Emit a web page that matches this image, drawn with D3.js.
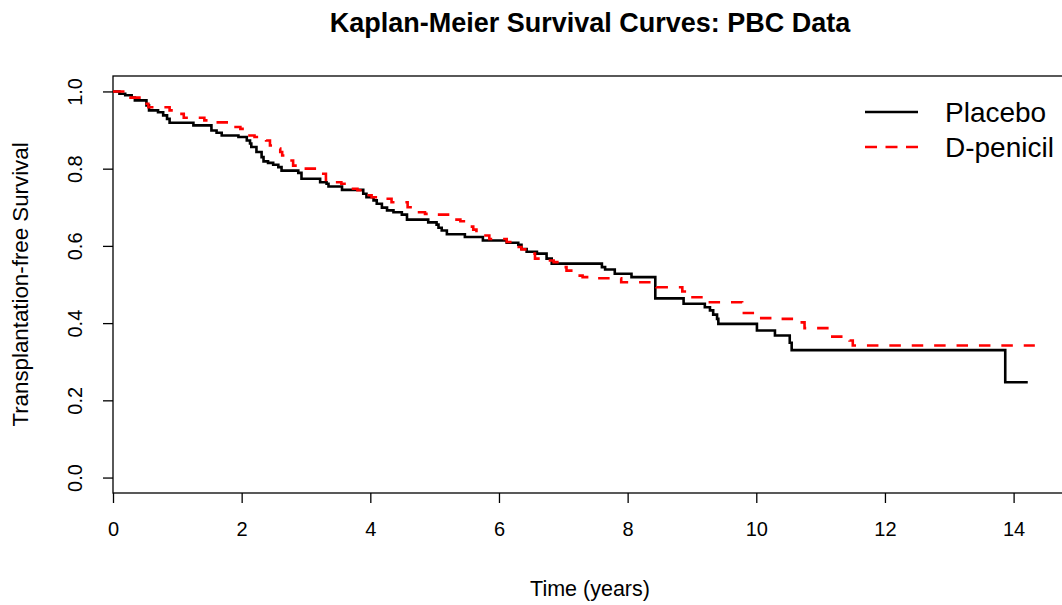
<!DOCTYPE html>
<html>
<head>
<meta charset="utf-8">
<script src="https://cdn.jsdelivr.net/npm/d3@7"></script>
<style>
  html, body { margin: 0; padding: 0; background: #fff; }
  svg { display: block; }
  text { font-family: "Liberation Sans", Arial, sans-serif; fill: #000; }
</style>
</head>
<body>
<svg id="chart" width="1062" height="605"></svg>
<script>
// ---- data ----
const title = "Kaplan-Meier Survival Curves: PBC Data";
const xLabel = "Time (years)";
const yLabel = "Transplantation-free Survival";
const seriesNames = ["Placebo", "D-penicil"];
const xTicks = [0, 2, 4, 6, 8, 10, 12, 14];
const yTicks = [0.0, 0.2, 0.4, 0.6, 0.8, 1.0];

// Placebo: step times (years) and survival after each step
const placeboTime = [0, 0.10, 0.19, 0.29, 0.34, 0.52, 0.56, 0.70, 0.78, 0.84, 0.88, 1.25, 1.53, 1.61, 1.69, 1.95,
  2.08, 2.13, 2.15, 2.23, 2.31, 2.34, 2.41, 2.49, 2.57, 2.62, 2.88, 2.93, 3.22, 3.32, 3.35, 3.56, 3.89, 3.94,
  4.05, 4.10, 4.18, 4.26, 4.36, 4.49, 4.57, 4.90, 5.03, 5.06, 5.11, 5.19, 5.47, 5.75, 6.12, 6.30, 6.35, 6.43,
  6.59, 6.74, 6.82, 7.60, 7.65, 7.80, 8.06, 8.43, 8.87, 9.20, 9.28, 9.33, 9.39, 9.41, 10.01, 10.29, 10.52,
  10.55, 13.87, 14.22];
const placeboSurv = [1.0, 0.994, 0.990, 0.984, 0.977, 0.964, 0.951, 0.946, 0.938, 0.929, 0.919, 0.912, 0.899, 0.893, 0.886, 0.882,
  0.873, 0.865, 0.856, 0.843, 0.830, 0.819, 0.815, 0.810, 0.804, 0.795, 0.789, 0.774, 0.765, 0.761, 0.754, 0.745, 0.735, 0.726,
  0.718, 0.709, 0.699, 0.692, 0.687, 0.681, 0.668, 0.661, 0.655, 0.647, 0.640, 0.630, 0.623, 0.614, 0.608, 0.603, 0.592, 0.585,
  0.580, 0.567, 0.554, 0.545, 0.539, 0.528, 0.519, 0.464, 0.450, 0.441, 0.433, 0.422, 0.411, 0.398, 0.381, 0.368, 0.349,
  0.330, 0.247, 0.247];

// D-penicillamine
const dpenTime = [0, 0.25, 0.45, 0.55, 0.88, 1.00, 1.10, 1.42, 1.55, 1.85, 1.98, 2.05, 2.20, 2.38, 2.44, 2.56, 2.60, 2.63,
  2.73, 2.80, 2.92, 3.24, 3.31, 3.42, 3.55, 3.68, 3.80, 3.93, 4.02, 4.22, 4.33, 4.58, 4.70, 4.85, 5.00, 5.28, 5.40,
  5.52, 5.60, 5.65, 5.75, 5.85, 6.12, 6.25, 6.35, 6.50, 6.56, 6.72, 6.85, 6.98, 7.05, 7.20, 7.30, 7.50, 7.90, 8.45,
  8.85, 8.95, 9.22, 9.78, 10.00, 10.35, 10.65, 10.75, 11.15, 11.45, 11.50, 14.33];
const dpenSurv = [1.0, 0.984, 0.968, 0.959, 0.951, 0.942, 0.932, 0.925, 0.920, 0.908, 0.903, 0.886, 0.882, 0.873, 0.860, 0.852, 0.843, 0.834,
  0.821, 0.808, 0.800, 0.787, 0.771, 0.765, 0.761, 0.748, 0.744, 0.731, 0.726, 0.722, 0.713, 0.700, 0.687, 0.683, 0.681, 0.668, 0.664,
  0.650, 0.642, 0.635, 0.627, 0.618, 0.610, 0.597, 0.591, 0.580, 0.567, 0.562, 0.558, 0.545, 0.536, 0.523, 0.519, 0.516, 0.506, 0.493,
  0.482, 0.467, 0.454, 0.426, 0.413, 0.411, 0.402, 0.387, 0.365, 0.355, 0.342, 0.342];

// ---- layout ----
const svg = d3.select("#chart");
const box = { left: 113, right: 1067, top: 76, bottom: 493 };

const x = d3.scaleLinear().domain([0, 14.83]).range([box.left, box.right]);
const y = d3.scaleLinear().domain([-0.04, 1.04]).range([box.bottom, box.top]);

// plot box
svg.append("rect")
  .attr("x", box.left).attr("y", box.top)
  .attr("width", box.right - box.left).attr("height", box.bottom - box.top)
  .attr("fill", "none").attr("stroke", "#000").attr("stroke-width", 1.3);

// x axis
const xAxis = d3.axisBottom(x).tickValues(xTicks).tickFormat(d3.format("d")).tickSize(10).tickPadding(19);
const gx = svg.append("g").attr("transform", `translate(0,${box.bottom})`).call(xAxis);
gx.select(".domain").remove();
gx.selectAll("line").attr("stroke", "#000").attr("stroke-width", 1.3);
gx.selectAll("text").style("font-size", "20px").attr("font-family", "Liberation Sans, Arial, sans-serif");

// y axis
const yAxis = d3.axisLeft(y).tickValues(yTicks).tickFormat(d3.format(".1f")).tickSize(10).tickPadding(12);
const gy = svg.append("g").attr("transform", `translate(${box.left},0)`).call(yAxis);
gy.select(".domain").remove();
gy.selectAll("line").attr("stroke", "#000").attr("stroke-width", 1.3);
gy.selectAll("text")
  .style("font-size", "20px").attr("font-family", "Liberation Sans, Arial, sans-serif")
  .attr("text-anchor", "middle").attr("x", null)
  .attr("transform", "translate(-31,0) rotate(-90)")
  .attr("dy", "0em");

// titles
svg.append("text").attr("x", (box.left + box.right) / 2).attr("y", 32)
  .attr("text-anchor", "middle").style("font-size", "27px").style("font-weight", "bold").text(title);
svg.append("text").attr("x", (box.left + box.right) / 2).attr("y", 596)
  .attr("text-anchor", "middle").style("font-size", "21.5px").text(xLabel);
svg.append("text").attr("transform", `translate(28,${(box.top + box.bottom) / 2}) rotate(-90)`)
  .attr("text-anchor", "middle").style("font-size", "22.3px").text(yLabel);

// curves
const line = d3.line().x(d => x(d[0])).y(d => y(d[1])).curve(d3.curveStepAfter);
const placebo = placeboTime.map((t, i) => [t, placeboSurv[i]]);
const dpen = dpenTime.map((t, i) => [t, dpenSurv[i]]);

svg.append("path").datum(placebo).attr("d", line)
  .attr("fill", "none").attr("stroke", "#000").attr("stroke-width", 2.6);
svg.append("path").datum(dpen).attr("d", line)
  .attr("fill", "none").attr("stroke", "#ff0000").attr("stroke-width", 2.6)
  .attr("stroke-dasharray", "11.5,10.9");

// legend
const legend = svg.append("g");
const legendItems = [
  { name: seriesNames[0], color: "#000", dash: null, y: 112 },
  { name: seriesNames[1], color: "#ff0000", dash: "12,8.5", y: 147 }
];
legendItems.forEach(it => {
  legend.append("line").attr("x1", 865).attr("x2", 918).attr("y1", it.y).attr("y2", it.y)
    .attr("stroke", it.color).attr("stroke-width", 2.6).attr("stroke-dasharray", it.dash);
  legend.append("text").attr("x", 945).attr("y", it.y + 10).style("font-size", "28px").text(it.name);
});
</script>
</body>
</html>
